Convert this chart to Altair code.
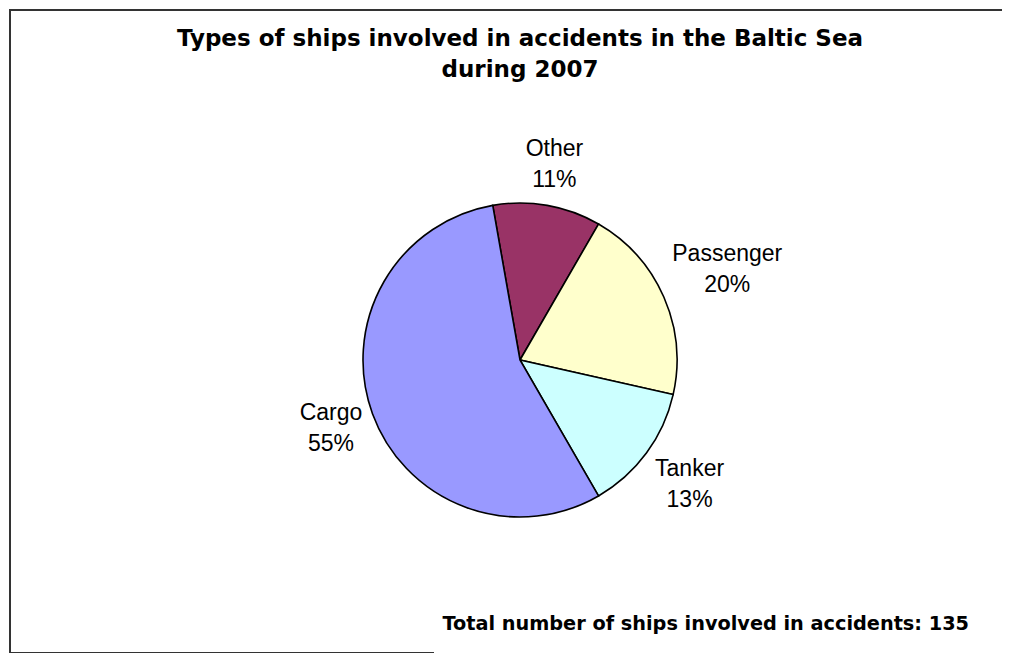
import math
import altair as alt
import pandas as pd

# ---- data ----
categories = ["Other", "Passenger", "Tanker", "Cargo"]
shares = [11, 20, 13, 55]
pct_labels = ["11%", "20%", "13%", "55%"]
colors = ["#993366", "#FFFFCC", "#CCFFFF", "#9999FF"]
title_lines = ["Types of ships involved in accidents in the Baltic Sea", "during 2007"]
footnote = ["Total number of ships involved in accidents: 135"]

# ---- layout ----
W, H = 994, 645
START = math.radians(-10)
CX, CY, R = 511, 351, 157

df = pd.DataFrame({
    "category": categories,
    "share": shares,
    "pct": pct_labels,
    "rank": list(range(len(categories))),
})
df["label"] = df["category"] + "\n" + df["pct"]

theta_scale = alt.Scale(range=[START, START + 2 * math.pi])

arcs = alt.Chart(df).mark_arc(radius=R, stroke="black", strokeWidth=1.6).encode(
    theta=alt.Theta("share:Q", stack=True, scale=theta_scale),
    order=alt.Order("rank:Q"),
    color=alt.Color("category:N", scale=alt.Scale(domain=categories, range=colors), legend=None),
    x=alt.value(CX),
    y=alt.value(CY),
)

labels = (
    alt.Chart(df)
    .transform_joinaggregate(total="sum(share)")
    .transform_window(cum="sum(share)", sort=[alt.SortField("rank")], frame=[None, 0])
    .transform_calculate(mid=f"{START} + 2*PI*(datum.cum - datum.share/2)/datum.total")
    .transform_calculate(
        r=f"{R} + 2 + abs(sin(datum.mid))*length(datum.category)*6.5 + abs(cos(datum.mid))*34"
    )
    .transform_calculate(
        lx=f"{CX} + datum.r*sin(datum.mid)",
        ly=f"{CY} - datum.r*cos(datum.mid)",
    )
    .mark_text(lineBreak="\n", font="Liberation Sans", fontSize=23, lineHeight=31,
               baseline="middle", align="center", color="black", dy=-15.5)
    .encode(
        x=alt.X("lx:Q", scale=None, axis=None),
        y=alt.Y("ly:Q", scale=None, axis=None),
        text="label:N",
    )
)

title = alt.Chart(pd.DataFrame({"t": ["\n".join(title_lines)]})).mark_text(
    lineBreak="\n", font="DejaVu Sans", fontWeight="bold", fontSize=23, lineHeight=31,
    align="center", baseline="alphabetic", color="black"
).encode(text="t:N", x=alt.value(511), y=alt.value(37))

foot = alt.Chart(pd.DataFrame({"t": footnote})).mark_text(
    font="DejaVu Sans", fontWeight="bold", fontSize=19.3,
    align="right", baseline="alphabetic", color="black"
).encode(text="t:N", x=alt.value(960), y=alt.value(621))

dummy = pd.DataFrame({"a": [0]})
border_left = alt.Chart(dummy).mark_rule(color="#333333", strokeWidth=2).encode(
    x=alt.value(1), y=alt.value(0), y2=alt.value(H))
border_top = alt.Chart(dummy).mark_rule(color="#333333", strokeWidth=2).encode(
    x=alt.value(0), x2=alt.value(W), y=alt.value(1))
border_bottom = alt.Chart(dummy).mark_rule(color="#333333", strokeWidth=2).encode(
    x=alt.value(0), x2=alt.value(425), y=alt.value(H - 1))

chart = alt.layer(arcs, labels, title, foot, border_left, border_top, border_bottom).properties(
    width=W, height=H, padding=0, background="white",
    autosize=alt.AutoSizeParams(type="fit", contains="padding"),
).configure_view(stroke=None)

chart.save("out.html", embed_options={"renderer": "svg", "actions": False})
